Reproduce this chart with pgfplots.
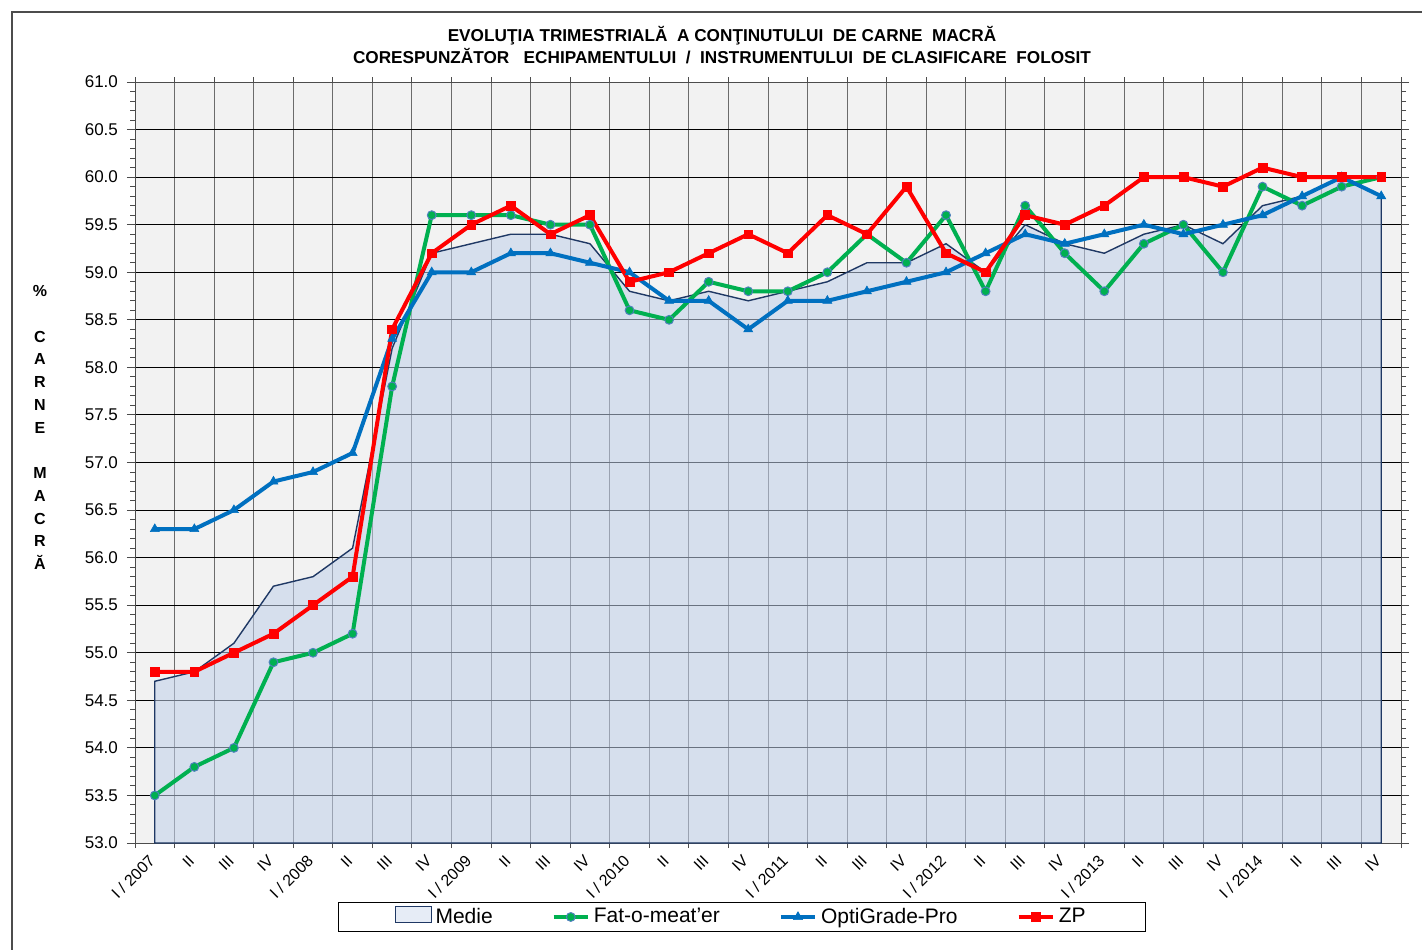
\documentclass[border=0pt]{standalone}
\usepackage{fontspec}
\setmainfont{Liberation Sans}
\usepackage{pgfplots}
\pgfplotsset{compat=1.18}
\usepackage{pgfplotstable}

\pgfplotstableread{
idx medie fat opti zp
0 54.7 53.5 56.3 54.8
1 54.8 53.8 56.3 54.8
2 55.1 54.0 56.5 55.0
3 55.7 54.9 56.8 55.2
4 55.8 55.0 56.9 55.5
5 56.1 55.2 57.1 55.8
6 58.2 57.8 58.3 58.4
7 59.2 59.6 59.0 59.2
8 59.3 59.6 59.0 59.5
9 59.4 59.6 59.2 59.7
10 59.4 59.5 59.2 59.4
11 59.3 59.5 59.1 59.6
12 58.8 58.6 59.0 58.9
13 58.7 58.5 58.7 59.0
14 58.8 58.9 58.7 59.2
15 58.7 58.8 58.4 59.4
16 58.8 58.8 58.7 59.2
17 58.9 59.0 58.7 59.6
18 59.1 59.4 58.8 59.4
19 59.1 59.1 58.9 59.9
20 59.3 59.6 59.0 59.2
21 59.0 58.8 59.2 59.0
22 59.5 59.7 59.4 59.6
23 59.3 59.2 59.3 59.5
24 59.2 58.8 59.4 59.7
25 59.4 59.3 59.5 60.0
26 59.5 59.5 59.4 60.0
27 59.3 59.0 59.5 59.9
28 59.7 59.9 59.6 60.1
29 59.8 59.7 59.8 60.0
30 60.0 59.9 60.0 60.0
31 59.8 60.0 59.8 60.0
}\data

\definecolor{cgreen}{RGB}{0,176,80}
\definecolor{cblue}{RGB}{0,112,192}
\definecolor{cred}{RGB}{255,0,0}
\definecolor{cfill}{RGB}{192,208,234}
\definecolor{cnavy}{RGB}{31,56,100}
\definecolor{cbg}{RGB}{242,242,242}
\definecolor{cmark}{RGB}{79,129,189}

\begin{document}
\begin{tikzpicture}
\useasboundingbox (0,0) rectangle (711pt,474.5pt);
\draw[gray!60!black, line width=0.8pt] (6pt,-2pt) -- (6pt,468.5pt) -- (713pt,468.5pt);
\node[font=\bfseries\fontsize{8.6}{10}\selectfont] at (361pt,456.5pt) {EVOLUŢIA TRIMESTRIALĂ \ A CONŢINUTULUI \ DE CARNE \ MACRĂ};
\node[font=\bfseries\fontsize{8.6}{10}\selectfont] at (361pt,446.5pt) {CORESPUNZĂTOR \ \ ECHIPAMENTULUI \ / \ INSTRUMENTULUI \ DE CLASIFICARE \ FOLOSIT};
\node[font=\bfseries\fontsize{8}{11.375}\selectfont, align=center] at (20pt,260.75pt) {\%\\ \mbox{}\\ C\\ A\\ R\\ N\\ E\\ \mbox{}\\ M\\ A\\ C\\ R\\ Ă};
\begin{axis}[
  at={(67.5pt,53pt)}, anchor=south west,
  scale only axis, width=633pt, height=380.5pt,
  xmin=-0.5, xmax=31.5, ymin=53, ymax=61,
  axis background/.style={fill=cbg},
  axis line style={gray!60!black, line width=0.5pt},
  xtick={0,...,31},
  xticklabels={I / 2007,II,III,IV,I / 2008,II,III,IV,I / 2009,II,III,IV,I / 2010,II,III,IV,I / 2011,II,III,IV,I / 2012,II,III,IV,I / 2013,II,III,IV,I / 2014,II,III,IV},
  major x tick style={draw=none},
  minor xtick={-0.5,0.5,...,31.5},
  xminorgrids=true,
  minor grid style={gray!85!black, line width=0.5pt},
  ytick={53,53.5,...,61},
  minor y tick num=4,
  ymajorgrids=true,
  major grid style={black, line width=0.5pt},
  tick align=outside,
  major tick length=4pt,
  minor tick length=2.5pt,
  tick style={gray!60!black, line width=0.5pt},
  /pgf/number format/assume math mode=true,
  yticklabel style={font=\fontsize{8.5}{10}\selectfont, /pgf/number format/fixed, /pgf/number format/fixed zerofill, /pgf/number format/precision=1, xshift=-1pt},
  xticklabel style={font=\fontsize{8}{10}\selectfont, rotate=45, anchor=east, yshift=-1.5pt},
  legend style={at={(0.4795,-0.0972)}, anchor=center, legend columns=4, draw=black, fill=white,
     font=\fontsize{10.5}{12}\selectfont, inner xsep=28pt, inner ysep=0.5pt,
     /tikz/every even column/.append style={column sep=27.5pt}},
  legend cell align=left,
]
\addplot[draw=cnavy, line width=0.7pt, fill=cfill, fill opacity=0.55,
  legend image code/.code={\draw[fill=cfill!70, draw=cnavy, line width=0.5pt] (0pt,-0.3em) rectangle (18pt,0.5em);}]
  table[x=idx,y=medie]{\data} \closedcycle;
\addlegendentry{Medie}
\addplot[cgreen, line width=2pt, mark=*, mark size=2.2pt, mark options={fill=cgreen, draw=cmark, line width=0.5pt}]
  table[x=idx,y=fat]{\data};
\addlegendentry{Fat-o-meat'er}
\addplot[cblue, line width=2pt, mark=triangle*, mark size=2.6pt, mark options={fill=cblue, line width=0.3pt}]
  table[x=idx,y=opti]{\data};
\addlegendentry{OptiGrade-Pro}
\addplot[cred, line width=2pt, mark=square*, mark size=2.2pt, mark options={fill=cred, line width=0.3pt}]
  table[x=idx,y=zp]{\data};
\addlegendentry{ZP}
\end{axis}
\end{tikzpicture}
\end{document}
